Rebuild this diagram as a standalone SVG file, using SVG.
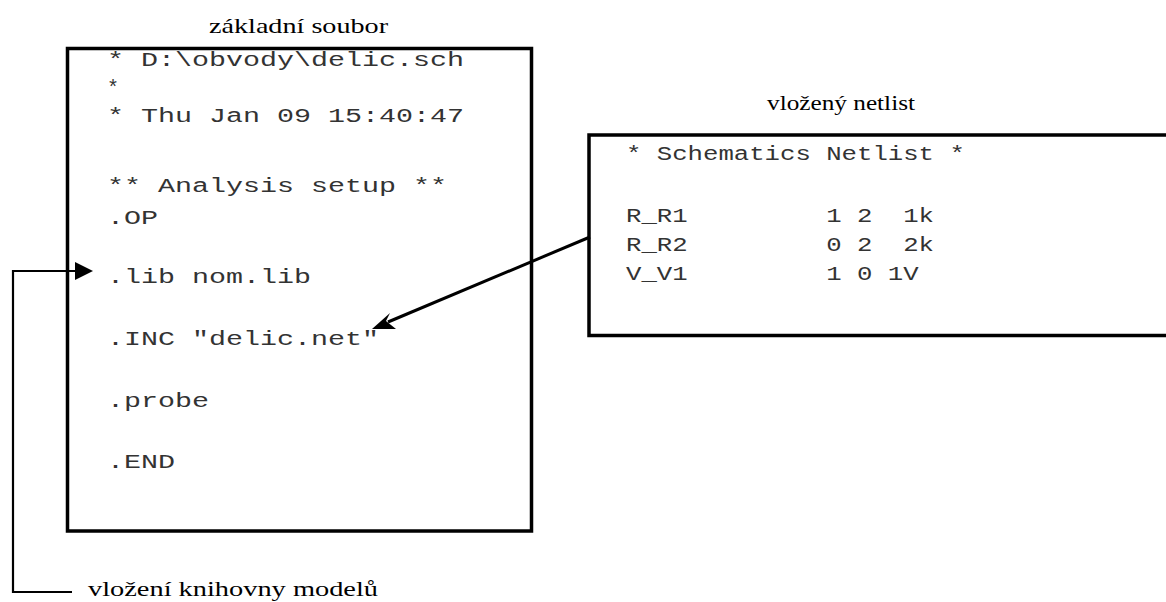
<svg xmlns="http://www.w3.org/2000/svg" width="1166" height="602" viewBox="0 0 1166 602">
<style>
.box{fill:none;stroke:#000;stroke-width:3.5}
.mono{font-family:"Liberation Mono","DejaVu Sans Mono",monospace;font-size:20px;fill:#333}
.ttl{font-family:"Liberation Serif","DejaVu Serif",serif;font-size:22px;fill:#000}
.ln{fill:none;stroke:#000;stroke-width:2.2}
.ln3{fill:none;stroke:#000;stroke-width:3}
</style>
<g id="zakladni-soubor">
<rect class="box" x="67.5" y="48.5" width="464" height="482.5"/>
<text class="ttl" x="209" y="33" textLength="179" lengthAdjust="spacingAndGlyphs">základní soubor</text>
<text class="mono" x="107" y="66" textLength="357" lengthAdjust="spacingAndGlyphs">* D:\obvody\delic.sch</text>
<text class="mono" x="107" y="94">*</text>
<text class="mono" x="107" y="122" textLength="357" lengthAdjust="spacingAndGlyphs">* Thu Jan 09 15:40:47</text>
<text class="mono" x="107" y="192" textLength="340" lengthAdjust="spacingAndGlyphs">** Analysis setup **</text>
<text class="mono" x="107" y="224" textLength="51" lengthAdjust="spacingAndGlyphs">.OP</text>
<text class="mono" x="107" y="283" textLength="204" lengthAdjust="spacingAndGlyphs">.lib nom.lib</text>
<text class="mono" x="107" y="345" textLength="272" lengthAdjust="spacingAndGlyphs">.INC "delic.net"</text>
<text class="mono" x="107" y="407" textLength="102" lengthAdjust="spacingAndGlyphs">.probe</text>
<text class="mono" x="107" y="468" textLength="68" lengthAdjust="spacingAndGlyphs">.END</text>
</g>
<g id="vlozeny-netlist">
<rect class="box" x="589" y="135" width="590" height="200.5"/>
<text class="ttl" x="767" y="110" textLength="148" lengthAdjust="spacingAndGlyphs">vložený netlist</text>
<text class="mono" x="626" y="160" textLength="338.8" lengthAdjust="spacingAndGlyphs">* Schematics Netlist *</text>
<text class="mono" x="626" y="222" textLength="61.6" lengthAdjust="spacingAndGlyphs">R_R1</text>
<text class="mono" x="826.2" y="222" textLength="46.2" lengthAdjust="spacingAndGlyphs">1 2</text>
<text class="mono" x="903.2" y="222" textLength="30.8" lengthAdjust="spacingAndGlyphs">1k</text>
<text class="mono" x="626" y="251" textLength="61.6" lengthAdjust="spacingAndGlyphs">R_R2</text>
<text class="mono" x="826.2" y="251" textLength="46.2" lengthAdjust="spacingAndGlyphs">0 2</text>
<text class="mono" x="903.2" y="251" textLength="30.8" lengthAdjust="spacingAndGlyphs">2k</text>
<text class="mono" x="626" y="280" textLength="61.6" lengthAdjust="spacingAndGlyphs">V_V1</text>
<text class="mono" x="826.2" y="280" textLength="92.4" lengthAdjust="spacingAndGlyphs">1 0 1V</text>
</g>
<g id="label-knihovna">
<text class="ttl" x="88" y="596" textLength="290" lengthAdjust="spacingAndGlyphs">vložení knihovny modelů</text>
</g>
<g id="connectors">
<polyline class="ln" points="72,592 13,592 13,271 77,271"/>
<polygon points="75,262 93,271 75,280" fill="#000"/>
<line class="ln3" x1="590" y1="237" x2="388" y2="322"/>
<polygon points="372,329 390,313 386,321 396,329" fill="#000"/>
</g>
</svg>
